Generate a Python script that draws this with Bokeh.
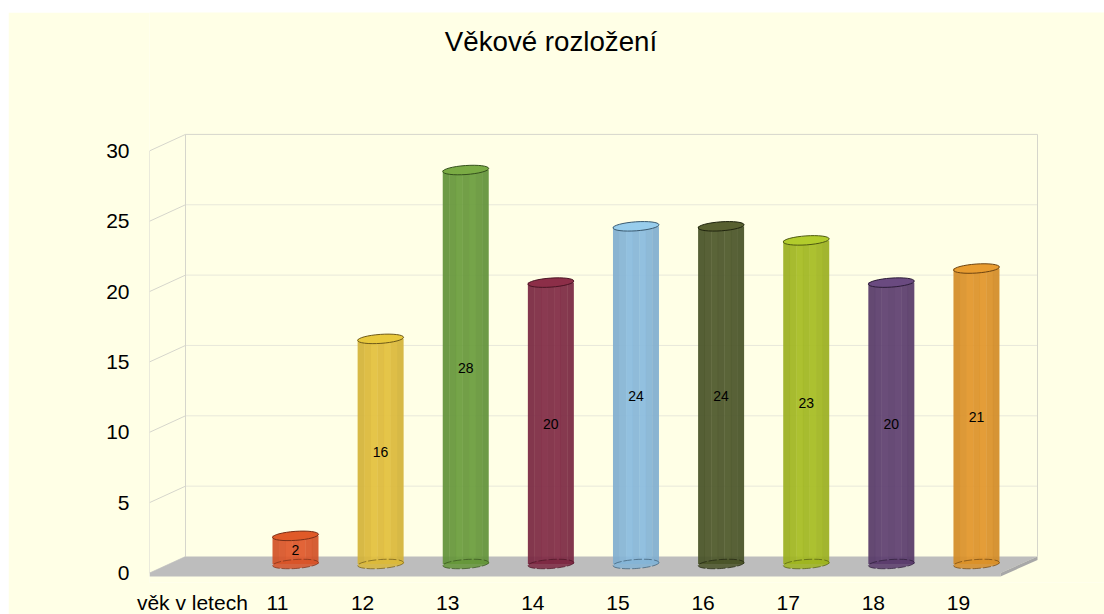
from bokeh.plotting import figure
from bokeh.models import Range1d, FixedTicker, ColumnDataSource, Spacer, LinearAxis
from bokeh.layouts import column, row
from bokeh.core.properties import value
from bokeh.embed import file_html
from bokeh.resources import INLINE

ages = [11, 12, 13, 14, 15, 16, 17, 18, 19]
counts = [2, 16, 28, 20, 24, 24, 23, 20, 21]
colors = ["#d85428", "#dbb93a", "#65963a", "#7c2842", "#84b4d6",
          "#4a5428", "#9fb520", "#5a3c6c", "#da9028"]
top_colors = ["#e05a28", "#e8c83c", "#7aab44", "#8c2e48", "#98cdec",
              "#586030", "#b2cc2c", "#6a4a80", "#e89c30"]
edge_colors = ["#7a3018", "#6e5a18", "#34501c", "#4a1424", "#3a5a70",
               "#20240e", "#4e5a10", "#2c1c38", "#6e4410"]
tick_values = [0, 5, 10, 15, 20, 25, 30]
axis_name = "věk v letech"
title_text = "Věkové rozložení"
band_shades = [0.97, 1.0, 1.04, 1.01, 1.04, 1.0, 0.97]

FONT = "Liberation Sans"
PX_PER_UNIT = 14.07   # vertical pixels per value unit
PX_PER_AGE = 85.12
Y0 = 572.5            # pixel row of value 0 on the front plane
FRAME_BOTTOM = 582
LABEL_SHIFT = 18      # category labels sit this far left of their cylinders


def X(px):
    return 11 + (px - 295) / PX_PER_AGE


def Y(py):
    return (Y0 - py) / PX_PER_UNIT


def shade(c, f):
    r, g, b = int(c[1:3], 16), int(c[3:5], 16), int(c[5:7], 16)
    return "#%02x%02x%02x" % (min(255, int(r * f)), min(255, int(g * f)), min(255, int(b * f)))


BG = "#ffffe6"
p = figure(width=1096, height=602, frame_height=FRAME_BOTTOM - 12, output_backend="svg", toolbar_location=None,
           x_range=Range1d(X(149), X(1104)), y_range=Range1d(Y(FRAME_BOTTOM), Y(12)),
           min_border_left=141, min_border_right=0, min_border_top=0, min_border_bottom=0,
           x_axis_location=None, background_fill_color=BG, border_fill_color=BG,
           outline_line_color=None)
p.xgrid.visible = False
p.ygrid.visible = False

ax = p.yaxis[0]
ax.ticker = FixedTicker(ticks=tick_values)
ax.axis_line_color = None
ax.major_tick_line_color = None
ax.minor_tick_line_color = None
ax.major_label_standoff = 14
ax.major_label_text_font = FONT
ax.major_label_text_font_size = "21px"
ax.major_label_text_color = "#000000"

# a second x scale that slides the category labels left of the cylinders
shift = LABEL_SHIFT / PX_PER_AGE
p.extra_x_ranges["labels"] = Range1d(X(149) + shift, X(1104) + shift)
xax = LinearAxis(x_range_name="labels", ticker=FixedTicker(ticks=[ages[0] - 1] + ages),
                 major_label_overrides={ages[0] - 1: axis_name})
xax.axis_line_color = None
xax.major_tick_line_color = None
xax.minor_tick_line_color = None
xax.major_label_standoff = 2
xax.major_label_text_font = FONT
xax.major_label_text_font_size = "21px"
xax.major_label_text_color = "#000000"
p.add_layout(xax, "below")

# walls: the back plane sits higher than the front plane by a fixed depth
DEPTH = Y(556)
GRID = "#d6d6cc"
GRID_SOFT = "#e8e8da"
x_l, x_b, x_r, x_fr = X(149), X(185), X(1037), X(1000)
for t in tick_values:
    strong = t == 30
    p.line([x_l, x_b], [t, t + DEPTH], line_color=GRID, line_width=1)
    if t > 0:
        p.line([x_b, x_r], [t + DEPTH, t + DEPTH], line_color=GRID if strong else GRID_SOFT, line_width=1)
p.line([x_l, x_l], [0, 30], line_color=GRID, line_width=1)
p.line([x_b, x_b], [DEPTH, 30 + DEPTH], line_color=GRID, line_width=1)
p.line([x_r, x_r], [DEPTH, 30 + DEPTH], line_color=GRID, line_width=1)

# floor slab
THICK = Y(576)
p.patch([x_l, x_b, x_r, x_fr], [0, DEPTH, DEPTH, 0], fill_color="#bdbdbd", line_color=None)
p.patch([x_l, x_fr, x_fr, x_l], [0, 0, THICK, THICK], fill_color="#bdbdbd", line_color=None)
p.patch([x_fr, x_r, x_r, x_fr], [0, DEPTH, DEPTH + THICK, THICK], fill_color="#a8a8a8", line_color=None)

# cylinders
BASE = Y(563.5)
HALF = 23 / PX_PER_AGE
n = len(band_shades)
bl, br, bb, bt, bc = [], [], [], [], []
for a, v, c in zip(ages, counts, colors):
    for i, f in enumerate(band_shades):
        bl.append(a - HALF + 2 * HALF * i / n)
        br.append(a - HALF + 2 * HALF * (i + 1) / n + (0.004 if i < n - 1 else 0))
        bb.append(BASE)
        bt.append(v + BASE)
        bc.append(shade(c, f))
p.quad(left="l", right="r", bottom="b", top="t", fill_color="c", fill_alpha=0.92, line_color=None,
       source=ColumnDataSource(dict(l=bl, r=br, b=bb, t=bt, c=bc)))

src = ColumnDataSource(dict(x=ages, base=[BASE] * len(ages), top=[v + BASE for v in counts],
                            mid=[v / 2 + 0.6 for v in counts], fill=colors, tfill=top_colors,
                            edge=edge_colors, lab=[str(v) for v in counts]))
ANG = 0.07
p.ellipse(x="x", y="base", width=46, height=9, angle=ANG, width_units="screen", height_units="screen",
          fill_color="fill", fill_alpha=0.85, line_color="edge", line_alpha=0.7, line_width=1, line_dash="8 2", source=src)
p.ellipse(x="x", y="top", width=46, height=9, angle=ANG, width_units="screen", height_units="screen",
          fill_color="tfill", line_color="edge", line_width=1, source=src)
p.text(x="x", y="mid", text="lab", text_font=value(FONT), text_font_size="14px", text_color="#000000",
       text_align="center", text_baseline="middle", source=src)

p.text(x=[X(550.5)], y=[Y(41)], text=[title_text], text_font=value(FONT), text_font_size="27.7px",
       text_color="#000000", text_align="center", text_baseline="middle")

page = row(Spacer(width=8), column(Spacer(height=12), p, spacing=0), spacing=0)
open("out.html", "w").write(file_html(page, INLINE))
